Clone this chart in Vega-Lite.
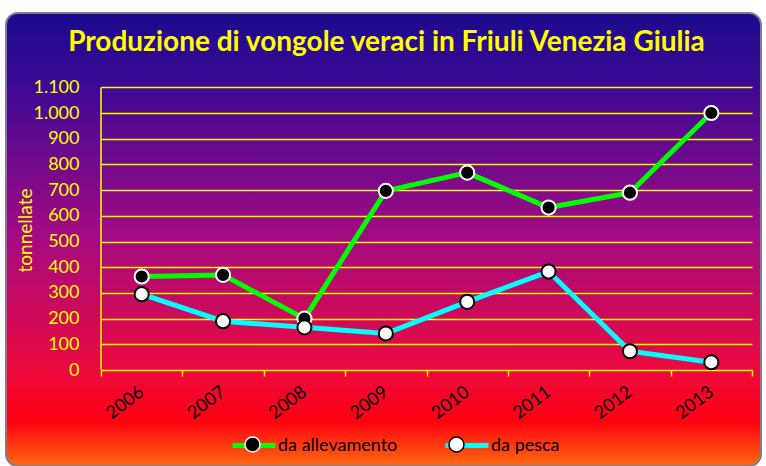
{
  "$schema": "https://vega.github.io/schema/vega-lite/v6.json",
  "width": 755,
  "height": 453,
  "autosize": {"type": "none"},
  "padding": {"left": 6, "top": 13, "right": 5, "bottom": 0},
  "background": "white",
  "view": {
    "fill": {
      "gradient": "linear", "x1": 0, "y1": 0, "x2": 0, "y2": 1,
      "stops": [
        {"offset": 0, "color": "#1a0a8c"},
        {"offset": 0.16, "color": "#3c0994"},
        {"offset": 0.48, "color": "#a00a84"},
        {"offset": 0.79, "color": "#ec0a3e"},
        {"offset": 0.9, "color": "#ff0010"},
        {"offset": 1, "color": "#ff6a10"}
      ]
    },
    "stroke": "#7d7d8f",
    "strokeWidth": 2,
    "cornerRadius": 12
  },
  "title": {
    "text": "Produzione di vongole veraci in Friuli Venezia Giulia",
    "color": "#ffff00",
    "font": "Lato",
    "fontSize": 28,
    "fontWeight": "bold",
    "anchor": "middle",
    "frame": "group",
    "baseline": "alphabetic",
    "offset": -66,
    "dx": 3
  },
  "data": {
    "values": [
      {"anno": "2006", "serie": "da allevamento", "t": 364},
      {"anno": "2007", "serie": "da allevamento", "t": 370},
      {"anno": "2008", "serie": "da allevamento", "t": 200},
      {"anno": "2009", "serie": "da allevamento", "t": 697},
      {"anno": "2010", "serie": "da allevamento", "t": 768},
      {"anno": "2011", "serie": "da allevamento", "t": 632},
      {"anno": "2012", "serie": "da allevamento", "t": 690},
      {"anno": "2013", "serie": "da allevamento", "t": 1000},
      {"anno": "2006", "serie": "da pesca", "t": 295},
      {"anno": "2007", "serie": "da pesca", "t": 190},
      {"anno": "2008", "serie": "da pesca", "t": 166},
      {"anno": "2009", "serie": "da pesca", "t": 142},
      {"anno": "2010", "serie": "da pesca", "t": 265},
      {"anno": "2011", "serie": "da pesca", "t": 383},
      {"anno": "2012", "serie": "da pesca", "t": 73},
      {"anno": "2013", "serie": "da pesca", "t": 30}
    ]
  },
  "layer": [
    {
      "mark": {"type": "line", "strokeWidth": 5},
      "encoding": {
        "x": {
          "field": "anno", "type": "ordinal",
          "scale": {"type": "band", "paddingInner": 0, "paddingOuter": 0.639, "align": 0.9135},
          "axis": {
            "orient": "bottom", "offset": -96, "domain": false, "grid": false,
            "ticks": true, "tickBand": "extent", "tickSize": 6, "tickColor": "#ffff00", "tickWidth": 1.5,
            "labelAngle": -37, "labelAlign": "right", "labelBaseline": "middle", "labelPadding": 14,
            "labelColor": "black", "labelFont": "Lato", "labelFontSize": 18, "title": null
          }
        },
        "y": {
          "field": "t", "type": "quantitative",
          "scale": {"domain": [-373.5, 1389.1], "nice": false, "zero": false},
          "axis": {
            "orient": "left", "offset": -95, "domain": false, "grid": false,
            "values": [0, 100, 200, 300, 400, 500, 600, 700, 800, 900, 1000, 1100],
            "ticks": true, "tickSize": -651, "tickColor": "#ffff00", "tickWidth": 1.5,
            "labelPadding": 673, "labelColor": "#ffff00", "labelFont": "Lato", "labelFontSize": 18,
            "labelExpr": "replace(format(datum.value, ','), ',', '.')",
            "title": "tonnellate", "titleColor": "#ffff00", "titleFont": "Lato", "titleFontSize": 19,
            "titleFontWeight": "normal", "titleX": -76, "titleY": 217, "titleAngle": -90,
            "titleAlign": "center", "titleBaseline": "middle"
          }
        },
        "color": {
          "field": "serie", "type": "nominal",
          "scale": {"domain": ["da allevamento", "da pesca"], "range": ["#00ff00", "#00ffff"]},
          "legend": {
            "orient": "none", "legendX": 224, "legendY": 408.5, "direction": "horizontal",
            "title": null, "symbolType": "stroke", "symbolSize": 1849, "symbolStrokeWidth": 5,
            "labelFont": "Lato", "labelFontSize": 18, "labelColor": "black", "labelOffset": 0,
            "columnPadding": 37, "padding": 0
          }
        }
      }
    },
    {
      "mark": {"type": "point", "filled": true, "size": 200, "strokeWidth": 2, "opacity": 1},
      "encoding": {
        "x": {"field": "anno", "type": "ordinal"},
        "y": {"field": "t", "type": "quantitative"},
        "fill": {
          "field": "serie", "type": "nominal",
          "scale": {"range": ["#000000", "#ffffff"]},
          "legend": {
            "orient": "none", "legendX": 224, "legendY": 408.5, "direction": "horizontal",
            "title": null, "symbolType": "M0.35,0A0.35,0.35,0,1,1,-0.35,0A0.35,0.35,0,1,1,0.35,0Z",
            "symbolSize": 1849, "symbolStrokeWidth": 1.5, "symbolOpacity": 1,
            "labelExpr": "''", "labelOffset": 0,
            "columnPadding": 159, "padding": 0, "zindex": 1
          }
        },
        "stroke": {
          "field": "serie", "type": "nominal",
          "scale": {"range": ["#ffffff", "#000000"]},
          "legend": {
            "orient": "none", "legendX": 224, "legendY": 408.5, "direction": "horizontal",
            "title": null, "symbolType": "M0.35,0A0.35,0.35,0,1,1,-0.35,0A0.35,0.35,0,1,1,0.35,0Z",
            "symbolSize": 1849, "symbolStrokeWidth": 1.5, "symbolOpacity": 1,
            "labelExpr": "''", "labelOffset": 0,
            "columnPadding": 159, "padding": 0, "zindex": 1
          }
        }
      }
    },
    {
      "data": {"values": [{}]},
      "mark": {"type": "rule", "color": "#ffff00", "strokeWidth": 1.5},
      "encoding": {
        "x": {"datum": "2006", "type": "ordinal", "bandPosition": 0},
        "y": {"datum": 0, "type": "quantitative"},
        "y2": {"datum": 1100}
      }
    }
  ]
}
